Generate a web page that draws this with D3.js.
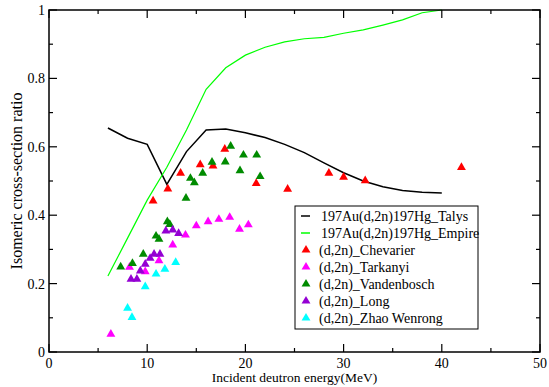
<!DOCTYPE html>
<html>
<head>
<meta charset="utf-8">
<script src="https://cdn.jsdelivr.net/npm/d3@7"></script>
<style>
  body { margin: 0; background: #fff; }
  svg { display: block; }
</style>
</head>
<body>
<svg id="chart" width="549" height="387"></svg>
<script>
// model curves
const talysE   = [6, 8, 10, 12, 14, 16, 18, 20, 22, 24, 26, 28, 30, 32, 34, 36, 38, 40];
const talysR   = [0.655, 0.625, 0.607, 0.49, 0.586, 0.649, 0.652, 0.641, 0.627, 0.607, 0.583, 0.553, 0.524, 0.5, 0.483, 0.472, 0.467, 0.465];
const empireE  = [6, 8, 10, 12, 14, 16, 18, 20, 22, 24, 26, 28, 30, 32, 34, 36, 38, 40];
const empireR  = [0.222, 0.333, 0.444, 0.54, 0.649, 0.768, 0.831, 0.868, 0.891, 0.907, 0.916, 0.92, 0.932, 0.942, 0.956, 0.971, 0.992, 1.0];

// measurements
const chevarierE = [10.6, 12.1, 13.4, 15.4, 16.7, 17.9, 21.1, 24.3, 28.5, 30.0, 32.2, 42.0];
const chevarierR = [0.442, 0.477, 0.523, 0.548, 0.544, 0.593, 0.493, 0.476, 0.523, 0.511, 0.501, 0.540];
const tarkanyiE  = [6.3, 8.2, 9.8, 11.2, 12.6, 13.9, 15.0, 16.2, 17.3, 18.4, 19.4, 20.3];
const tarkanyiR  = [0.052, 0.248, 0.235, 0.267, 0.313, 0.342, 0.369, 0.381, 0.388, 0.394, 0.359, 0.372];
const vandenE    = [7.3, 8.5, 9.6, 10.9, 11.2, 12.05, 12.3, 13.95, 14.4, 14.8, 15.65, 16.6, 17.95, 18.5, 19.45, 19.8, 21.15, 21.5];
const vandenR    = [0.249, 0.259, 0.286, 0.339, 0.330, 0.381, 0.373, 0.450, 0.508, 0.495, 0.523, 0.555, 0.556, 0.602, 0.530, 0.576, 0.576, 0.513];
const longE      = [8.35, 8.95, 9.3, 9.8, 10.3, 10.7, 11.3, 11.9, 12.6, 13.2];
const longR      = [0.213, 0.213, 0.237, 0.257, 0.274, 0.286, 0.286, 0.354, 0.357, 0.347];
const zhaoE      = [8.0, 8.45, 9.8, 10.9, 11.8, 12.9];
const zhaoR      = [0.128, 0.101, 0.191, 0.228, 0.242, 0.262];

const xTicks = [0, 10, 20, 30, 40, 50];
const yTicks = [0, 0.2, 0.4, 0.6, 0.8, 1];

const lines = [
  { name: '197Au(d,2n)197Hg_Talys',  e: talysE,  r: talysR,  color: '#000000', width: 1.5 },
  { name: '197Au(d,2n)197Hg_Empire', e: empireE, r: empireR, color: '#00ff00', width: 1.2 }
];
const sets = [
  { name: '(d,2n)_Chevarier',    e: chevarierE, r: chevarierR, color: '#ff0000' },
  { name: '(d,2n)_Tarkanyi',     e: tarkanyiE,  r: tarkanyiR,  color: '#ff00ff' },
  { name: '(d,2n)_Vandenbosch',  e: vandenE,    r: vandenR,    color: '#008b00' },
  { name: '(d,2n)_Long',         e: longE,      r: longR,      color: '#9400d3' },
  { name: '(d,2n)_Zhao Wenrong', e: zhaoE,      r: zhaoR,      color: '#00ffff' }
];

const L = 49, R = 540, T = 10, B = 352;
const svg = d3.select('#chart')
  .attr('font-family', '"Liberation Serif", "Times New Roman", serif');

const x = d3.scaleLinear().domain([0, 50]).range([L, R]);
const y = d3.scaleLinear().domain([0, 1]).range([B, T]);

const tri = d3.symbol().type(d3.symbolTriangle).size(34);

// curves
const line = d3.line().x(d => x(d[0])).y(d => y(d[1]));
lines.forEach(s => {
  svg.append('path')
    .datum(s.e.map((v, i) => [v, s.r[i]]))
    .attr('fill', 'none')
    .attr('stroke', s.color)
    .attr('stroke-width', s.width)
    .attr('d', line);
});

// points
sets.forEach(s => {
  svg.append('g').selectAll('path')
    .data(s.e.map((v, i) => [v, s.r[i]]))
    .enter().append('path')
      .attr('d', tri)
      .attr('fill', s.color)
      .attr('transform', d => `translate(${x(d[0])},${y(d[1])})`);
});

// frame + inward ticks on all sides
const axes = svg.append('g');
const major = 8, minor = 4;
d3.range(0, 51, 5).forEach(v => {
  const len = v % 10 === 0 ? major : minor;
  axes.append('line').attr('x1', x(v)).attr('x2', x(v)).attr('y1', B).attr('y2', B - len);
  axes.append('line').attr('x1', x(v)).attr('x2', x(v)).attr('y1', T).attr('y2', T + len);
});
d3.range(0, 11).forEach(k => {
  const v = k / 10;
  const len = k % 2 === 0 ? major : minor;
  axes.append('line').attr('x1', L).attr('x2', L + len).attr('y1', y(v)).attr('y2', y(v));
  axes.append('line').attr('x1', R).attr('x2', R - len).attr('y1', y(v)).attr('y2', y(v));
});
axes.selectAll('line').attr('stroke', '#000').attr('stroke-width', 1.2);
axes.append('rect')
  .attr('x', L).attr('y', T).attr('width', R - L).attr('height', B - T)
  .attr('fill', 'none').attr('stroke', '#000').attr('stroke-width', 1.5);

// tick labels
svg.append('g').selectAll('text').data(xTicks).enter().append('text')
  .attr('x', d => x(d)).attr('y', B + 16)
  .attr('text-anchor', 'middle').attr('font-size', 14)
  .text(d => d);
svg.append('g').selectAll('text').data(yTicks).enter().append('text')
  .attr('x', L - 4).attr('y', d => y(d) + 5)
  .attr('text-anchor', 'end').attr('font-size', 14)
  .text(d => d);

// axis titles
svg.append('text')
  .attr('x', (L + R) / 2).attr('y', 382)
  .attr('text-anchor', 'middle').attr('font-size', 13.5)
  .text('Incident deutron energy(MeV)');
svg.append('text')
  .attr('transform', `translate(22,${(T + B) / 2}) rotate(-90)`)
  .attr('text-anchor', 'middle').attr('font-size', 16)
  .text('Isomeric cross-section ratio');

// legend
const lg = svg.append('g');
lg.append('rect')
  .attr('x', 295).attr('y', 206).attr('width', 183).attr('height', 123)
  .attr('fill', '#fff').attr('stroke', '#000').attr('stroke-width', 1);
lines.forEach((s, i) => {
  const yy = 216 + i * 17;
  lg.append('line').attr('x1', 301).attr('x2', 310).attr('y1', yy).attr('y2', yy)
    .attr('stroke', s.color).attr('stroke-width', 1.5);
  lg.append('text').attr('x', 321).attr('y', yy + 5).attr('font-size', 14).text(s.name);
});
sets.forEach((s, i) => {
  const yy = 216 + (i + 2) * 17;
  lg.append('path').attr('d', tri).attr('fill', s.color)
    .attr('transform', `translate(306,${yy})`);
  lg.append('text').attr('x', 319).attr('y', yy + 5).attr('font-size', 14).text(s.name);
});
</script>
</body>
</html>
